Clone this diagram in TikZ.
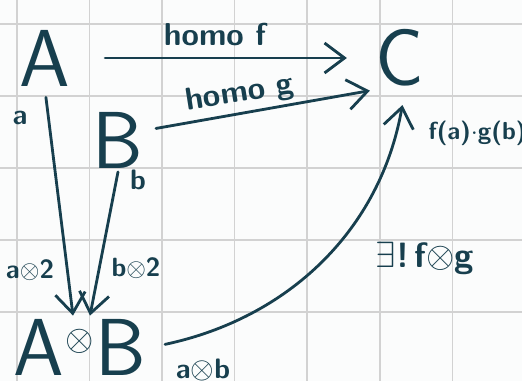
\documentclass[tikz,border=0pt]{standalone}
\usepackage{amsmath,amssymb}
\usepackage{tikz}
\usetikzlibrary{arrows.meta}
\definecolor{ink}{HTML}{173F4E}
\definecolor{paper}{HTML}{FBFCFC}
\definecolor{rule}{HTML}{D2D2D2}
\tikzset{
 obj/.style={font=\sffamily\fontsize{46}{50}\selectfont, text=ink, inner sep=2pt},
 lbl/.style={font=\sffamily\bfseries\fontsize{16}{18}\selectfont, text=ink, inner sep=0pt},
 map/.style={draw=ink, line width=1.6pt, line cap=round,
   -{Straight Barb[length=4mm,width=6mm]}}
}

\begin{document}
\begin{tikzpicture}
\fill[paper] (0,0) rectangle (10.44,-7.62);
\useasboundingbox (0,0) rectangle (10.44,-7.62);
% grid
\foreach \x in {0.34,1.79,3.24,4.69,6.14,7.60,9.05}
  \draw[rule, line width=0.6pt] (\x,0) -- (\x,-7.62);
\foreach \y in {-0.48,-1.92,-3.36,-4.80,-6.24}
  \draw[rule, line width=0.6pt] (0,\y) -- (10.44,\y);
% objects
\node[obj] (A) at (0.9,-1.16) {A};
\node[obj] (B) at (2.36,-2.8) {B};
\node[obj] (C) at (8.0,-1.16) {C};
\node[obj] (AB) at (1.6,-6.95) {A\hspace{1pt}\raisebox{0.5cm}{\fontsize{22}{24}\selectfont$\otimes$}\hspace{1pt}B};
% maps
\draw[map, shorten <=0.62cm, shorten >=0.5cm] (A) -- (C);
\draw[map, shorten <=0.18cm, shorten >=0.04cm] ([yshift=0.2cm]B.east) -- (C.south west);
\draw[map, shorten <=0.15cm] (A.south) -- ([xshift=-0.14cm]AB.north);
\draw[map] (B.south) -- ([xshift=0.2cm]AB.north);
\draw[map, shorten <=0.3cm, shorten >=0.3cm] (AB.east) to[out=12, in=-100] ([xshift=0.1cm]C.south);
% labels
\node[lbl, font=\sffamily\bfseries\fontsize{18}{20}\selectfont] (lf) at (4.3,-0.7) {homo f};
\node[lbl, font=\sffamily\bfseries\fontsize{18}{20}\selectfont, rotate=9] (lg) at (4.8,-1.88) {homo g};
\node[lbl] (la) at (0.4,-2.36) {a};
\node[lbl] (lb) at (2.76,-3.6) {b};
\node[lbl, font=\sffamily\bfseries\fontsize{15}{17}\selectfont] (la2) at (0.6,-5.4) {a$\otimes$2};
\node[lbl, font=\sffamily\bfseries\fontsize{15}{17}\selectfont] (lb2) at (2.72,-5.36) {b$\otimes$2};
\node[lbl] (lab) at (4.06,-7.4) {a$\otimes$b};
\node[lbl, font=\sffamily\bfseries\fontsize{20}{22}\selectfont] (lu) at (8.5,-5.16) {$\exists$!\,f$\otimes$g};
\node[lbl, font=\sffamily\bfseries\fontsize{14}{16}\selectfont] (lfg) at (9.55,-2.66) {f(a)$\cdot$g(b)};
\end{tikzpicture}
\end{document}
